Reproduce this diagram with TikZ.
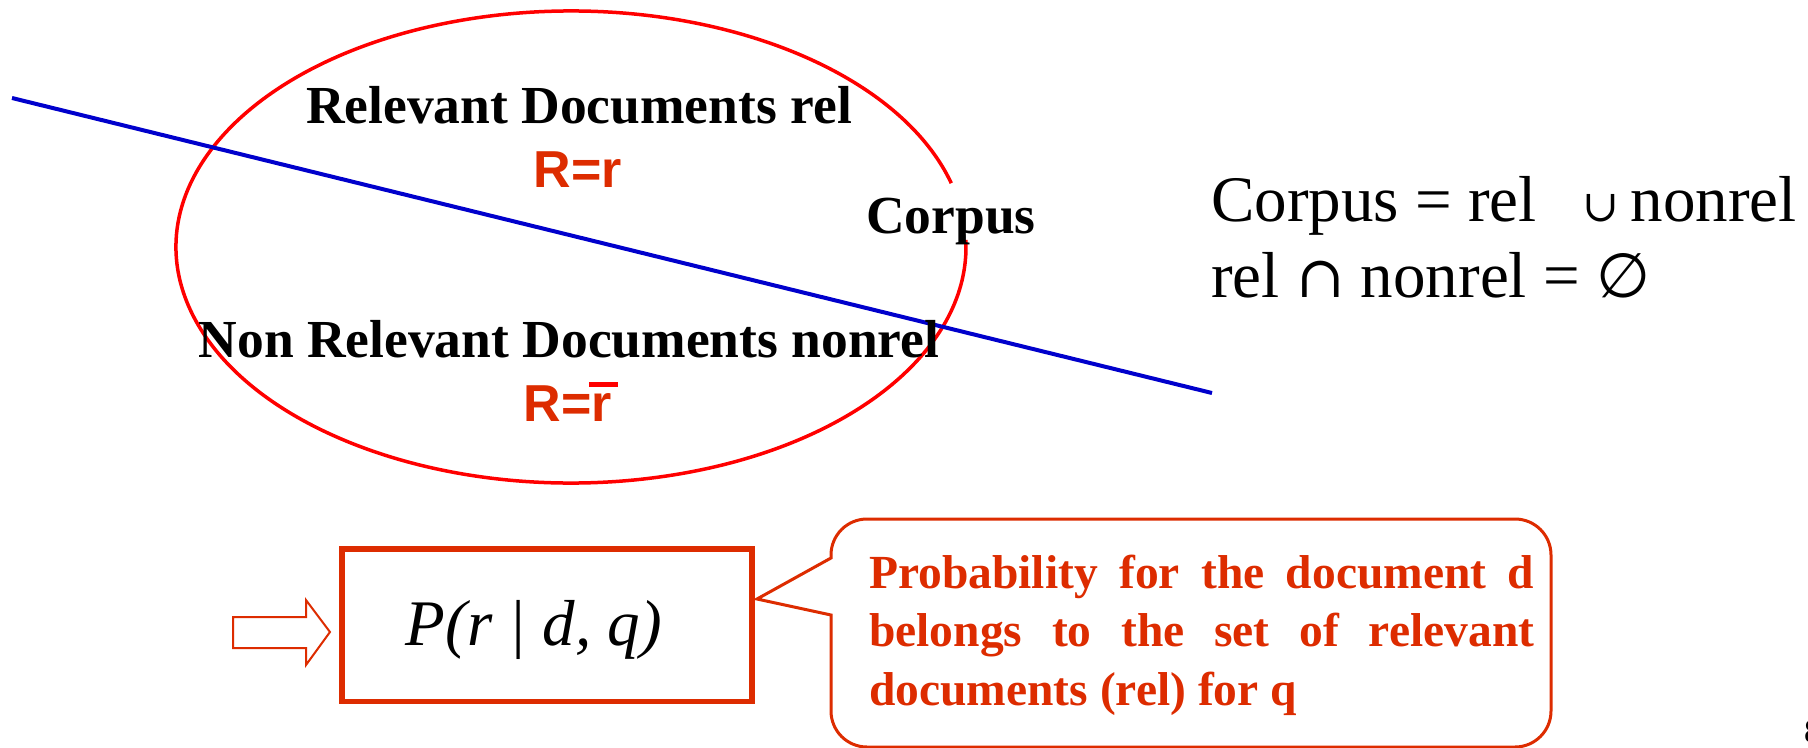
\documentclass[tikz,border=0pt]{standalone}
\usepackage{fontspec}
\setmainfont{Liberation Serif}
\newfontfamily\arialfam{Liberation Sans}
\newfontfamily\symfam{DejaVu Serif}
\newfontfamily\symsans{DejaVu Sans}
\definecolor{ellred}{RGB}{255,0,0}
\definecolor{lineblue}{RGB}{0,0,204}
\definecolor{accent}{RGB}{221,44,0}
\tikzset{
  setlabel/.style={inner sep=0pt, anchor=base, text=black,
    font=\bfseries\fontsize{53.5bp}{60bp}\selectfont},
  rvalue/.style={inner sep=0pt, anchor=base, text=accent,
    font=\arialfam\bfseries\fontsize{52bp}{60bp}\selectfont},
  eqline/.style={inner sep=0pt, anchor=base west, text=black,
    font=\fontsize{65bp}{75bp}\selectfont},
  probbox/.style={draw=accent, line width=5.7bp, rectangle, inner sep=0pt,
    minimum width=410bp, minimum height=152.5bp},
  callout/.style={draw=accent, line width=3bp, fill=white},
  hollowarrow/.style={draw=accent, line width=2bp, fill=white},
}
\begin{document}
\begin{tikzpicture}[x=1bp, y=-1bp]
  \useasboundingbox (0,0) rectangle (1808,748);

  % corpus outline, open where the label sits
  \coordinate (corpusC) at (571,247);
  \draw[ellred, line width=3.5bp]
    (corpusC) ++(-15.7:395 and 236)
    arc[start angle=-15.7, end angle=-361.7, x radius=395, y radius=236];

  % dividing line between relevant and non relevant documents
  \coordinate (cutA) at (12,98);
  \coordinate (cutB) at (1212,393);
  \draw[lineblue, line width=4bp] (cutA) -- (cutB);

  % labels inside the corpus
  \node[setlabel] (rel) at (579,123) {Relevant Documents rel};
  \node[rvalue] (rvalR) at (578,187) {R=r};
  \node[setlabel] (nonrel) at (569,357) {Non Relevant Documents nonrel};
  \node[rvalue] (rvalN) at (568,421) {R=r};
  \fill[ellred] (589,382) rectangle (618,387);
  \node[setlabel, anchor=base west] (corpus) at (866,233) {Corpus};

  % set relations
  \node[eqline] (eqA) at (1211,221)
    {Corpus = rel\hspace{46bp}{\symfam\fontsize{44bp}{44bp}\selectfont ∪}\hspace{11bp}nonrel};
  \node[eqline] (eqB) at (1211,297)
    {rel {\symfam\fontsize{58bp}{58bp}\selectfont ∩} nonrel = {\symsans\fontsize{62bp}{62bp}\selectfont ∅}};

  % hollow arrow pointing at the probability
  \draw[hollowarrow] (233,617) -- (306,617) -- (306,600) -- (330,632)
    -- (306,665) -- (306,648) -- (233,648) -- cycle;

  % the probability box
  \node[probbox] (pbox) at (547,625.25) {};
  \node[inner sep=0pt, anchor=base,
    font=\itshape\fontsize{65bp}{70bp}\selectfont] (prob) at (534,645)
    {P(r | d, q)};

  % explanation callout with its pointer
  \coordinate (tip) at (757,599);
  \draw[callout] (831,558) -- (831,555)
    arc[start angle=180, end angle=270, radius=36] -- (1515,519)
    arc[start angle=270, end angle=360, radius=36] -- (1551,711)
    arc[start angle=0, end angle=90, radius=36] -- (867,747)
    arc[start angle=90, end angle=180, radius=36] -- (831,615)
    -- (tip) -- cycle;
  \node[inner sep=0pt, anchor=base west, text=accent] (explain) at (869,588)
    {\parbox[t]{665bp}{\bfseries\fontsize{47.5bp}{58.5bp}\selectfont
      \hyphenpenalty=10000 \exhyphenpenalty=10000
      Probability for the document d\linebreak
      belongs to the set of relevant\linebreak
      documents (rel) for q}};

  % page number at the edge
  \node[inner sep=0pt, anchor=base west, font=\fontsize{33bp}{36bp}\selectfont]
    (pageno) at (1804,742) {8};
\end{tikzpicture}
\end{document}
